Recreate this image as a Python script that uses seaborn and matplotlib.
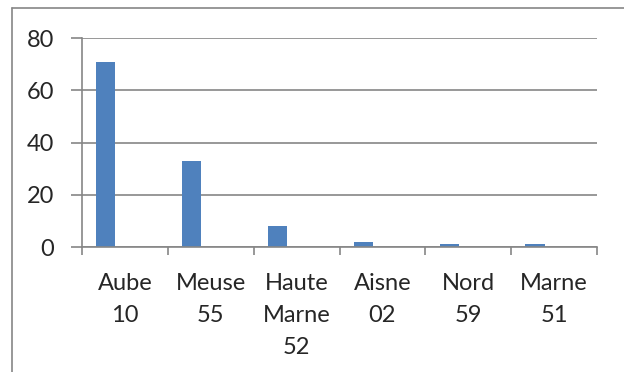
import matplotlib
matplotlib.use("Agg")
import matplotlib.pyplot as plt
from matplotlib.lines import Line2D
import seaborn as sns
import pandas as pd
import numpy as np

# Departments and their counts
departements = ["Aube\n10", "Meuse\n55", "Haute\nMarne\n52", "Aisne\n02", "Nord\n59", "Marne\n51"]
valeurs = [71, 33, 8, 2, 1, 1]
series = ["S1", "S2", "S3"]  # clustered layout: only the first series carries data

sns.set_theme(style="white")
plt.rcParams["font.family"] = ["Lato", "DejaVu Sans"]

rows = []
for d, v in zip(departements, valeurs):
    rows.append({"dep": d, "serie": "S1", "val": v})
    rows.append({"dep": d, "serie": "S2", "val": np.nan})
    rows.append({"dep": d, "serie": "S3", "val": np.nan})
df = pd.DataFrame(rows)

W, H = 624, 372
fig = plt.figure(figsize=(W / 100, H / 100), dpi=100)
ax = fig.add_axes([82 / W, (H - 247) / H, (597 - 82) / W, (247 - 38) / H])

blue = "#4f81bd"
grey = "#868686"
sns.barplot(data=df, x="dep", y="val", hue="serie", hue_order=series,
            palette=[blue, blue, blue], width=3 / 4.5, dodge=True,
            legend=False, ax=ax, saturation=1, edgecolor="none")

ax.set_ylim(0, 80)
ax.set_xlim(-0.5, len(departements) - 0.5)
ax.set_yticks([0, 20, 40, 60, 80])
ax.grid(axis="y", color=grey, linewidth=1.2)
ax.set_axisbelow(True)
ax.set_xlabel("")
ax.set_ylabel("")

# category boundary ticks, labels centred on minor ticks
ax.set_xticks(np.arange(-0.5, len(departements)), labels=[""] * (len(departements) + 1))
ax.set_xticks(np.arange(len(departements)), labels=departements, minor=True)
ax.tick_params(axis="x", which="major", length=6, width=1.2, color=grey, direction="out", bottom=True)
ax.tick_params(axis="x", which="minor", length=0, pad=18.5, labelsize=17)
for t in ax.get_xticklabels(minor=True):
    t.set_linespacing(1.66)
    t.set_verticalalignment("top")
ax.tick_params(axis="y", length=8, width=1.2, color=grey, direction="out", left=True, pad=12, labelsize=17)

for s in ["top", "right"]:
    ax.spines[s].set_visible(False)
for s in ["left", "bottom"]:
    ax.spines[s].set_color(grey)
    ax.spines[s].set_linewidth(1.2)

# chart frame
fig.add_artist(Line2D([12 / W, 1.0], [1 - 8 / H, 1 - 8 / H], color=grey, linewidth=1.2, transform=fig.transFigure))
fig.add_artist(Line2D([12 / W, 12 / W], [0.0, 1 - 8 / H], color=grey, linewidth=1.2, transform=fig.transFigure))

fig.savefig("out.png", dpi=100, facecolor="white")
